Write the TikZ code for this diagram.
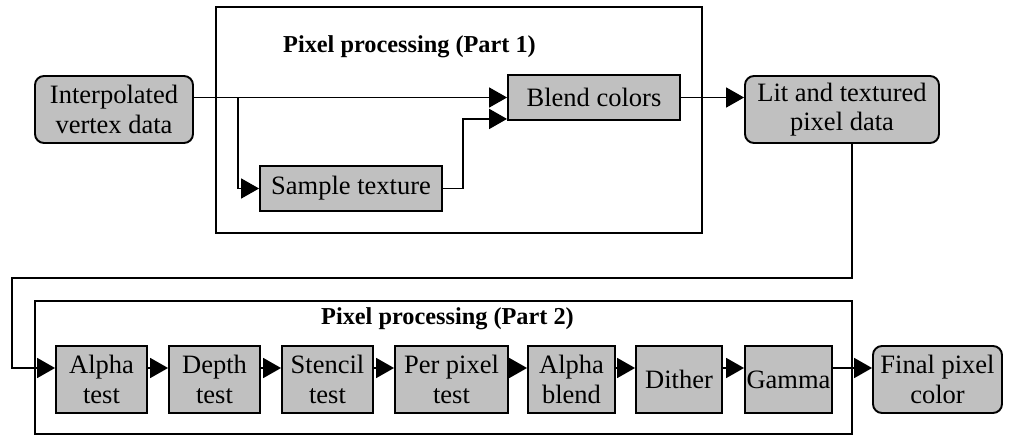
\documentclass[tikz,border=0pt]{standalone}
\usepackage{fontspec}
\setmainfont{Liberation Serif}
\usetikzlibrary{arrows.meta,calc}
\definecolor{boxgray}{RGB}{192,192,192}
\tikzset{
  lw/.style={line width=1.9pt},
  stage/.style={draw, lw, fill=boxgray, inner sep=0pt, align=center, font=\fontsize{26.5}{29.5}\selectfont},
  data/.style={stage, rounded corners=9pt},
  group/.style={draw, lw},
  title/.style={font=\fontsize{24.3}{28}\selectfont\bfseries, anchor=base, inner sep=0pt},
  arr/.style={lw, -{Triangle[length=18pt,width=20pt]}},
}
\begin{document}
\begin{tikzpicture}[x=1pt,y=-1pt]
\useasboundingbox (0,0) rectangle (1026,436);
% group boxes
\draw[group] (216,7) rectangle (702,233);
\draw[group] (35,301) rectangle (852,434);
\node[title] (t1) at (409.5,53) {Pixel processing (Part 1)};
\node[title] (t2) at (447.5,324) {Pixel processing (Part 2)};
% top row
\node[data, minimum width=158pt, minimum height=67pt] (interp) at (114,109.5) {Interpolated\\vertex data};
\node[stage, minimum width=172pt, minimum height=45pt] (blend) at (594,97.5) {Blend colors};
\node[stage, minimum width=182pt, minimum height=45pt] (sample) at (351,188.5) {Sample texture};
\node[data, minimum width=194pt, minimum height=67pt] (lit) at (842,109.5) {Lit and textured\\pixel data};
% bottom row
\node[stage, minimum width=91pt, minimum height=67pt] (alpha) at (101.5,379.5) {Alpha\\test};
\node[stage, minimum width=91pt, minimum height=67pt] (depth) at (214.5,379.5) {Depth\\test};
\node[stage, minimum width=91pt, minimum height=67pt] (stencil) at (327.5,379.5) {Stencil\\test};
\node[stage, minimum width=113pt, minimum height=67pt] (perpix) at (451.5,379.5) {Per pixel\\test};
\node[stage, minimum width=87pt, minimum height=67pt] (ablend) at (571.5,379.5) {Alpha\\blend};
\node[stage, minimum width=86pt, minimum height=67pt] (dither) at (679,379.5) {Dither};
\node[stage, minimum width=87pt, minimum height=67pt] (gamma) at (788.5,379.5) {Gamma};
\node[data, minimum width=129pt, minimum height=67pt] (final) at (937.5,379.5) {Final pixel\\color};
% connectors top
\coordinate (br) at (238,97.5);
\coordinate (up) at (463,150);
\draw[arr] (blend.west -| interp.east) -- (blend.west);
\draw[arr] (br) |- (sample.west);
\draw[arr] (sample.east) -| (up) |- ([yshift=2pt]blend.south west);
\draw[arr] (blend.east) -- (blend.east -| lit.west);
% long return connector
\coordinate (c1) at (852,278);
\coordinate (c2) at (12,278);
\draw[arr] (lit.south -| c1) -- (c1) -- (c2) |- ([yshift=11.5pt]alpha.west);
% bottom chain
\foreach \a/\b in {alpha/depth, depth/stencil, stencil/perpix, perpix/ablend, ablend/dither, dither/gamma, gamma/final}
  \draw[arr] ([yshift=11.5pt]\a.east) -- ([yshift=11.5pt]\b.west);
\end{tikzpicture}
\end{document}
